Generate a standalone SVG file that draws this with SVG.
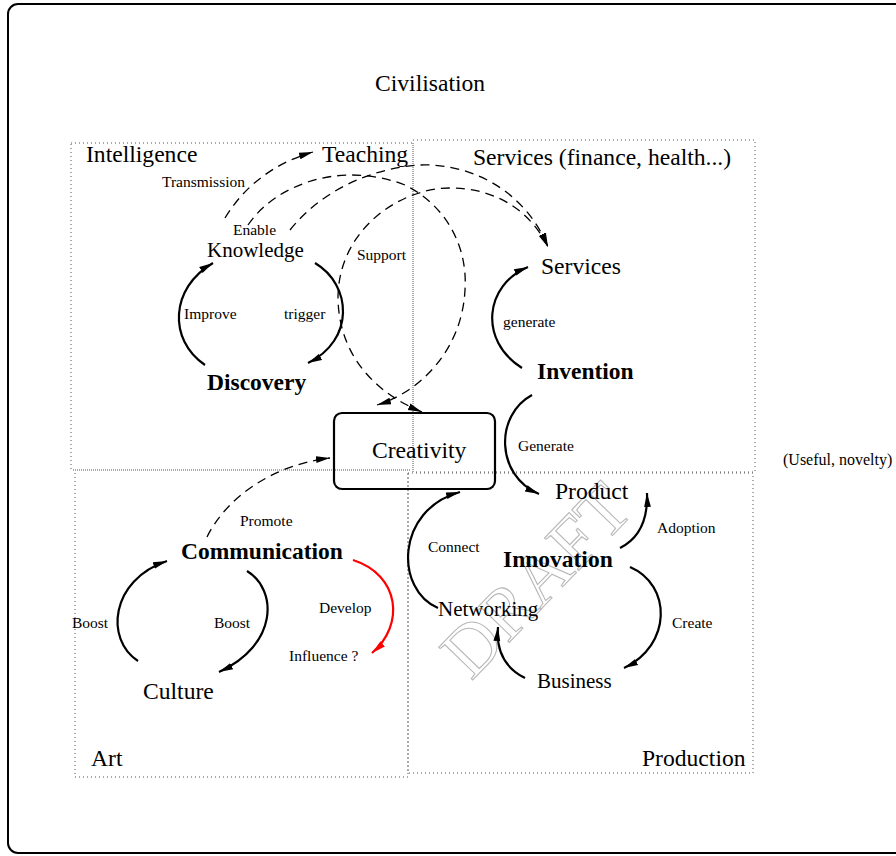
<svg xmlns="http://www.w3.org/2000/svg" width="896" height="856" viewBox="0 0 896 856">
<style>
.big{font-family:"Liberation Serif","Times New Roman",serif;font-size:23.6px;fill:#000}
.mid{font-family:"Liberation Serif","Times New Roman",serif;font-size:21px;fill:#000}
.bold{font-family:"Liberation Serif","Times New Roman",serif;font-size:23.5px;font-weight:bold;fill:#000}
.small{font-family:"Liberation Serif","Times New Roman",serif;font-size:15.5px;fill:#000}
.zone{fill:none;stroke:#555;stroke-width:1;stroke-dasharray:1 3}
.solid{fill:none;stroke:#000;stroke-width:2.2}
.dash{fill:none;stroke:#000;stroke-width:1.3;stroke-dasharray:9 6}
.red{fill:none;stroke:#f00;stroke-width:2.2}
.draft{font-family:"Liberation Serif","Times New Roman",serif;font-size:72px;fill:none;stroke:#b8b8b8;stroke-width:1.1}
</style>
<defs>
<marker id="ah" markerUnits="userSpaceOnUse" markerWidth="15" markerHeight="10" refX="14" refY="5" orient="auto-start-reverse" viewBox="0 0 15 10">
<path d="M0,1.6 L14,5 L0,8.4 z" fill="#000"/>
</marker>
<marker id="ahr" markerUnits="userSpaceOnUse" markerWidth="15" markerHeight="10" refX="14" refY="5" orient="auto" viewBox="0 0 15 10">
<path d="M0,1.6 L14,5 L0,8.4 z" fill="#f00"/>
</marker>
</defs>
<rect width="896" height="856" fill="#fff"/>
<g id="frame">
<rect x="8" y="4" width="900" height="849" rx="10" fill="none" stroke="#000" stroke-width="2"/>
<text class="big" x="375" y="91">Civilisation</text>
</g>
<g id="zones">
<g id="zone-intelligence"><rect class="zone" x="71" y="143" width="342" height="327"/><text class="big" x="86" y="162">Intelligence</text></g>
<g id="zone-services"><rect class="zone" x="413" y="140" width="342" height="332"/><text class="big" x="473" y="165">Services (finance, health...)</text></g>
<g id="zone-art"><rect class="zone" x="75" y="470" width="333" height="307"/><text class="big" x="91" y="766">Art</text></g>
<g id="zone-production"><rect class="zone" x="408" y="473" width="345" height="300"/><text class="big" x="642" y="766">Production</text></g>
</g>
<g id="watermark">
<text class="draft" transform="translate(536,580) rotate(-46)" text-anchor="middle" y="24">DRAFT</text>
</g>
<g id="connectors">
<path class="solid" marker-end="url(#ah)" d="M205,365 C168,340 170,288 213,263"/>
<path class="solid" marker-end="url(#ah)" d="M315,263 C352,285 355,340 308,363"/>
<path class="solid" marker-end="url(#ah)" d="M522,368 C478,340 485,285 528,267"/>
<path class="solid" marker-end="url(#ah)" d="M532,395 C495,415 495,475 539,494"/>
<path class="solid" marker-end="url(#ah)" d="M620,548 C640,538 648,520 647,493"/>
<path class="solid" marker-end="url(#ah)" d="M630,567 C672,585 672,645 624,668"/>
<path class="solid" marker-end="url(#ah)" d="M525,678 C505,668 496,650 498,627"/>
<path class="solid" marker-end="url(#ah)" d="M438,608 C395,590 395,510 460,492"/>
<path class="solid" marker-end="url(#ah)" d="M138,661 C105,640 110,580 167,561"/>
<path class="solid" marker-end="url(#ah)" d="M247,571 C278,590 278,645 219,672"/>
<path class="red" marker-end="url(#ahr)" d="M353,560 C400,575 405,625 372,653"/>
<path class="dash" marker-end="url(#ah)" d="M207,537 C225,500 270,465 330,458"/>
<path class="dash" marker-end="url(#ah)" d="M225,218 C245,185 275,163 313,152"/>
<path class="dash" marker-end="url(#ah)" d="M248,225 C275,185 340,160 405,185 C445,205 468,245 465,290 C462,350 420,392 377,405"/>
<path class="dash" marker-end="url(#ah)" d="M290,230 C320,192 370,168 420,165 C470,163 525,190 548,247"/>
<path class="dash" marker-start="url(#ah)" marker-end="url(#ah)" d="M422,412 C380,395 340,360 338,300 C337,230 400,188 450,188 C495,188 530,210 548,247"/>
</g>
<g id="connector-labels">
<text class="small" x="162" y="187">Transmission</text>
<text class="small" x="233" y="235">Enable</text>
<text class="small" x="357" y="260">Support</text>
<text class="small" x="184" y="319">Improve</text>
<text class="small" x="284" y="319">trigger</text>
<text class="small" x="503" y="327">generate</text>
<text class="small" x="518" y="451">Generate</text>
<text class="small" x="240" y="526">Promote</text>
<text class="small" x="657" y="533">Adoption</text>
<text class="small" x="428" y="552">Connect</text>
<text class="small" x="319" y="613">Develop</text>
<text class="small" x="72" y="628">Boost</text>
<text class="small" x="214" y="628">Boost</text>
<text class="small" x="672" y="628">Create</text>
</g>
<g id="node-teaching"><text class="big" x="322" y="162">Teaching</text></g>
<g id="node-knowledge"><text class="mid" x="207" y="257">Knowledge</text></g>
<g id="node-discovery"><text class="bold" x="207" y="390">Discovery</text></g>
<g id="node-services"><text class="big" x="541" y="274">Services</text></g>
<g id="node-invention"><text class="bold" x="537" y="379">Invention</text></g>
<g id="node-creativity"><rect x="334" y="413" width="161" height="76" rx="8" fill="none" stroke="#000" stroke-width="2.2"/><text class="big" x="372" y="458">Creativity</text></g>
<g id="node-useful"><text class="small" x="783" y="465" style="font-size:16px">(Useful, novelty)</text></g>
<g id="node-product"><text class="big" x="555" y="499">Product</text></g>
<g id="node-communication"><text class="bold" x="181" y="559">Communication</text></g>
<g id="node-innovation"><text class="bold" x="503" y="567">Innovation</text></g>
<g id="node-networking"><text class="mid" x="438" y="616">Networking</text></g>
<g id="node-influence"><text class="small" x="289" y="661">Influence ?</text></g>
<g id="node-business"><text class="mid" x="537" y="688">Business</text></g>
<g id="node-culture"><text class="big" x="143" y="699">Culture</text></g>
</svg>
